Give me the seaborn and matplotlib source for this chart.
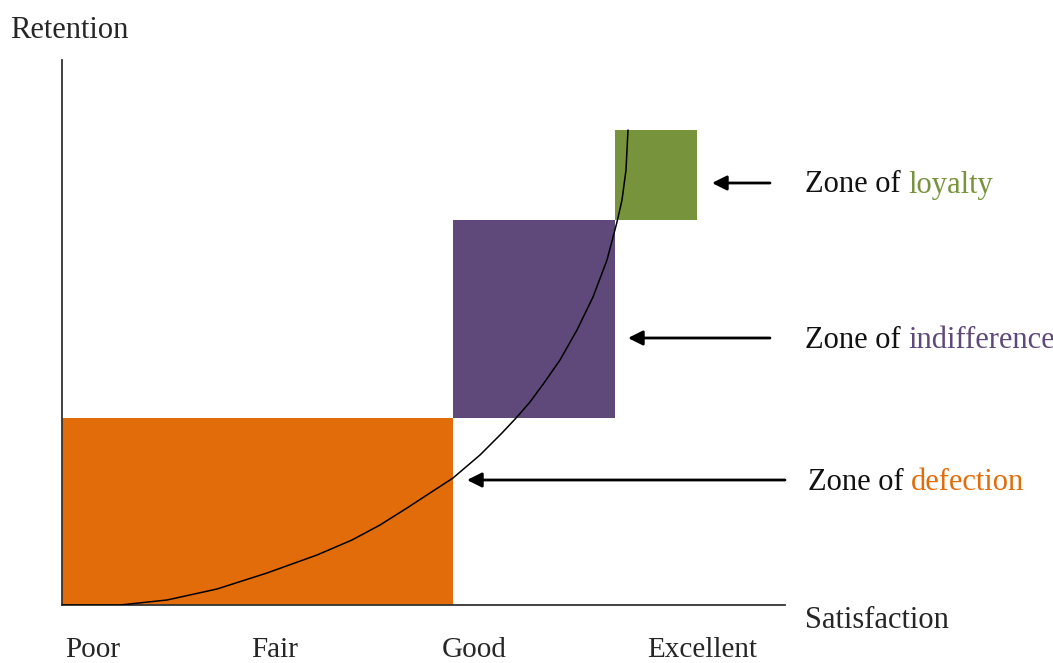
import numpy as np
import matplotlib
matplotlib.use("Agg")
import matplotlib.pyplot as plt
import seaborn as sns

# ZONES (satisfaction from, width / retention from, height)
zone_names = ["defection", "indifference", "loyalty"]
zone_left = [0, 391, 553]
zone_width = [391, 162, 82]
zone_bottom = [0, 187, 385]
zone_height = [187, 198, 90]
zone_colors = ["#E36C0A", "#5F497A", "#77933C"]

# RETENTION CURVE
curve_x = [0, 30, 58, 105, 155, 205, 255, 290, 318, 345, 368, 391, 418,
           440, 455, 468, 482, 498, 515, 531, 545, 555, 560, 564, 566]
curve_y = [0, 0, 0, 5, 16, 32, 50, 65, 80, 97, 112, 127, 150,
           172, 188, 203, 222, 245, 275, 308, 345, 383, 405, 435, 475]

# AXIS LABELS
tick_labels = ["Poor", "Fair", "Good", "Excellent"]
tick_pos = [31, 213, 412, 640]

# ARROWS POINTING AT EACH ZONE (tail x, head x, y)
arrow_tail = [723, 708, 708]
arrow_head = [405, 566, 650]
arrow_y = [125, 267, 422]
label_x = [746, 743, 743]

sns.set_style("white")
plt.rcParams["font.family"] = ["Liberation Serif", "DejaVu Serif"]

fig = plt.figure(figsize=(10.53, 6.63), dpi=100)
ax = fig.add_axes([62 / 1053, 58 / 663, 723 / 1053, 545 / 663])

ax.bar(zone_left, zone_height, width=zone_width, bottom=zone_bottom,
       align="edge", color=zone_colors, linewidth=0, zorder=1)

sns.lineplot(x=curve_x, y=curve_y, color="black", linewidth=1.1,
             sort=False, ax=ax, zorder=3)

ax.set_xlim(0, 723)
ax.set_ylim(0, 545)
ax.set_xticks([])
ax.set_yticks([])

for side in ["top", "right"]:
    ax.spines[side].set_visible(False)
for side in ["left", "bottom"]:
    ax.spines[side].set_color("#333333")
    ax.spines[side].set_linewidth(1.3)

fs = 22

for lab, x in zip(tick_labels, tick_pos):
    ax.text(x, -45, lab, ha="center", va="center", fontsize=21, clip_on=False)

ax.text(-52, 575, "Retention", ha="left", va="center", fontsize=fs, clip_on=False)
ax.text(743, -15, "Satisfaction", ha="left", va="center", fontsize=fs, clip_on=False)

for name, col, tx, hx, y, lx in zip(zone_names, zone_colors, arrow_tail,
                                    arrow_head, arrow_y, label_x):
    ax.annotate("", xy=(hx, y), xytext=(tx, y), annotation_clip=False,
                arrowprops=dict(arrowstyle="-|>", color="black", lw=2,
                                mutation_scale=22, shrinkA=0, shrinkB=0))
    t = ax.text(lx, y - 2, "Zone of ", ha="left", va="center", fontsize=fs,
                color="#111111", clip_on=False)
    ax.annotate(name, xy=(1, 0), xycoords=t, ha="left", va="bottom",
                fontsize=fs, color=col, annotation_clip=False)

plt.savefig("out.png", dpi=100)
